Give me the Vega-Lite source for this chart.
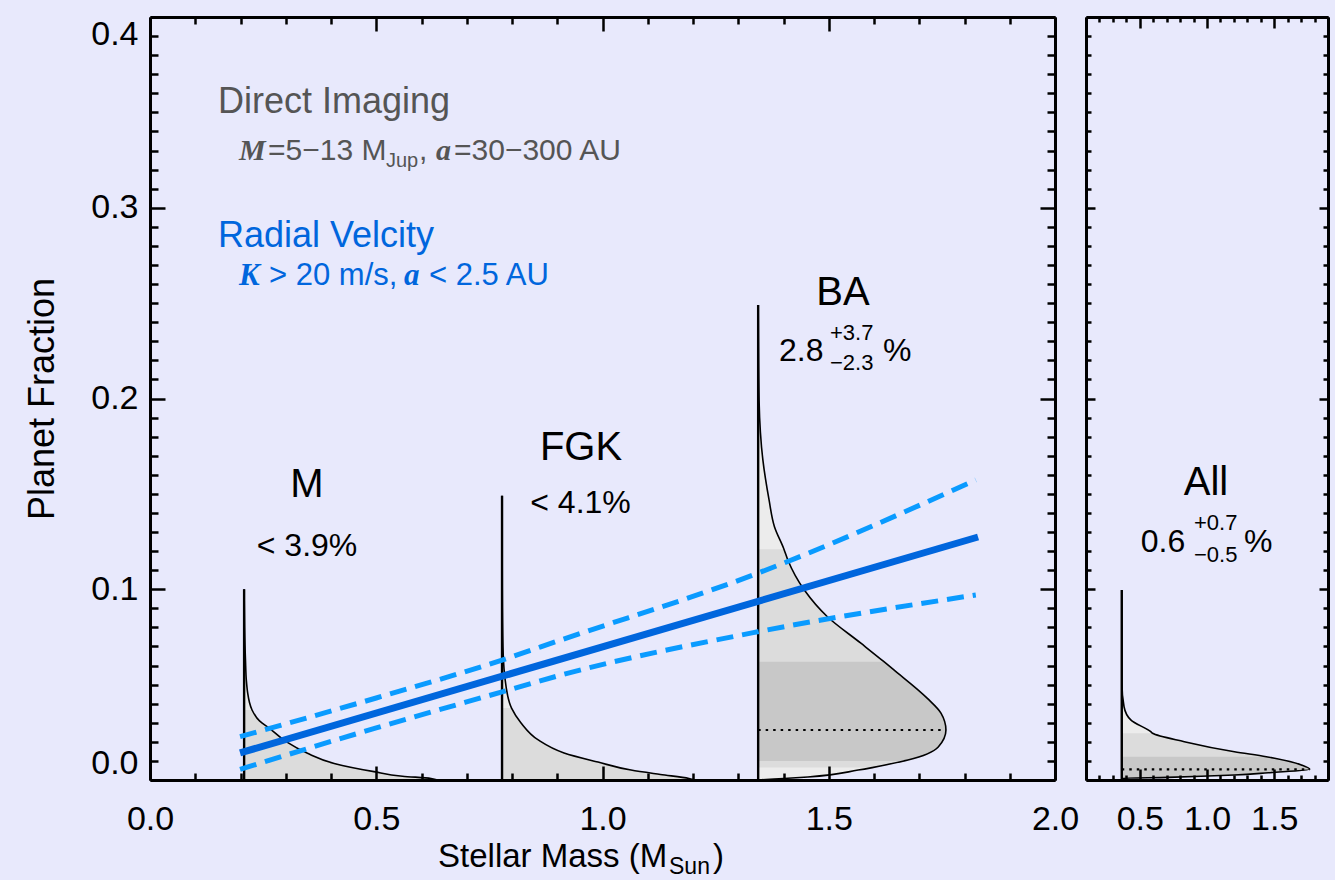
{
  "$schema": "https://vega.github.io/schema/vega-lite/v6.json",
  "background": "#e8e9fc",
  "padding": {"left": 24, "top": 15, "right": 5, "bottom": 0},
  "config": {"view": {"stroke": null}, "text": {"font": "Liberation Sans"}},
  "spacing": 31,
  "bounds": "flush",
  "datasets": {
    "curves": [
      {"d": "M", "y": 0, "x": 0.635},
      {"d": "M", "y": 0.0008, "x": 0.621},
      {"d": "M", "y": 0.002, "x": 0.558},
      {"d": "M", "y": 0.0044, "x": 0.495},
      {"d": "M", "y": 0.0087, "x": 0.407},
      {"d": "M", "y": 0.014, "x": 0.348},
      {"d": "M", "y": 0.0201, "x": 0.301},
      {"d": "M", "y": 0.0271, "x": 0.264},
      {"d": "M", "y": 0.031, "x": 0.242},
      {"d": "M", "y": 0.0367, "x": 0.2255},
      {"d": "M", "y": 0.041, "x": 0.2195},
      {"d": "M", "y": 0.0454, "x": 0.216},
      {"d": "M", "y": 0.052, "x": 0.213},
      {"d": "M", "y": 0.0629, "x": 0.211},
      {"d": "M", "y": 0.08, "x": 0.209},
      {"d": "M", "y": 0.1, "x": 0.208},
      {"d": "FGK", "y": 0, "x": 1.205},
      {"d": "FGK", "y": 0.0008, "x": 1.191},
      {"d": "FGK", "y": 0.0029, "x": 1.128},
      {"d": "FGK", "y": 0.0052, "x": 1.063},
      {"d": "FGK", "y": 0.0094, "x": 0.99},
      {"d": "FGK", "y": 0.0142, "x": 0.915},
      {"d": "FGK", "y": 0.021, "x": 0.858},
      {"d": "FGK", "y": 0.0299, "x": 0.82},
      {"d": "FGK", "y": 0.0377, "x": 0.799},
      {"d": "FGK", "y": 0.0488, "x": 0.787},
      {"d": "FGK", "y": 0.0697, "x": 0.78},
      {"d": "FGK", "y": 0.1, "x": 0.7785},
      {"d": "FGK", "y": 0.149, "x": 0.778},
      {"d": "BA", "y": 0, "x": 1.344},
      {"d": "BA", "y": 0.0005, "x": 1.379},
      {"d": "BA", "y": 0.0016, "x": 1.454},
      {"d": "BA", "y": 0.0052, "x": 1.565},
      {"d": "BA", "y": 0.0065, "x": 1.596},
      {"d": "BA", "y": 0.01, "x": 1.666},
      {"d": "BA", "y": 0.0105, "x": 1.675},
      {"d": "BA", "y": 0.0173, "x": 1.742},
      {"d": "BA", "y": 0.0262, "x": 1.759},
      {"d": "BA", "y": 0.0351, "x": 1.748},
      {"d": "BA", "y": 0.0428, "x": 1.718},
      {"d": "BA", "y": 0.0577, "x": 1.644},
      {"d": "BA", "y": 0.062, "x": 1.622},
      {"d": "BA", "y": 0.0717, "x": 1.571},
      {"d": "BA", "y": 0.0856, "x": 1.497},
      {"d": "BA", "y": 0.0996, "x": 1.446},
      {"d": "BA", "y": 0.1153, "x": 1.4096},
      {"d": "BA", "y": 0.121, "x": 1.401},
      {"d": "BA", "y": 0.1328, "x": 1.38},
      {"d": "BA", "y": 0.147, "x": 1.368},
      {"d": "BA", "y": 0.1678, "x": 1.3544},
      {"d": "BA", "y": 0.199, "x": 1.346},
      {"d": "BA", "y": 0.23, "x": 1.3445},
      {"d": "BA", "y": 0.249, "x": 1.344}
    ],
    "allcurve": [
      {"d": "All", "y": 0, "x": 0.366},
      {"d": "All", "y": 0.0009, "x": 0.37},
      {"d": "All", "y": 0.0014, "x": 0.709},
      {"d": "All", "y": 0.0026, "x": 1.202},
      {"d": "All", "y": 0.0038, "x": 1.456},
      {"d": "All", "y": 0.0056, "x": 1.764},
      {"d": "All", "y": 0.0079, "x": 1.702},
      {"d": "All", "y": 0.0114, "x": 1.503},
      {"d": "All", "y": 0.0122, "x": 1.441},
      {"d": "All", "y": 0.0148, "x": 1.204},
      {"d": "All", "y": 0.0201, "x": 0.831},
      {"d": "All", "y": 0.0245, "x": 0.595},
      {"d": "All", "y": 0.0253, "x": 0.582},
      {"d": "All", "y": 0.0315, "x": 0.433},
      {"d": "All", "y": 0.0384, "x": 0.383},
      {"d": "All", "y": 0.0509, "x": 0.367},
      {"d": "All", "y": 0.07, "x": 0.3665},
      {"d": "All", "y": 0.0996, "x": 0.366}
    ],
    "rv": [
      {"s": "fit", "x": 0.199, "y": 0.0142},
      {"s": "fit", "x": 1.83, "y": 0.1274},
      {"s": "upper", "x": 0.199, "y": 0.0227},
      {"s": "upper", "x": 0.5, "y": 0.043},
      {"s": "upper", "x": 0.778, "y": 0.0629},
      {"s": "upper", "x": 0.908, "y": 0.0734},
      {"s": "upper", "x": 1.343, "y": 0.1084},
      {"s": "upper", "x": 1.825, "y": 0.1573},
      {"s": "lower", "x": 0.199, "y": 0.0056},
      {"s": "lower", "x": 0.5, "y": 0.0273},
      {"s": "lower", "x": 0.778, "y": 0.0462},
      {"s": "lower", "x": 0.908, "y": 0.055},
      {"s": "lower", "x": 1.343, "y": 0.0777},
      {"s": "lower", "x": 1.825, "y": 0.097}
    ]
  },
  "hconcat": [
    {
      "width": 905,
      "height": 763,
      "resolve": {"axis": {"x": "independent", "y": "independent"}},
      "layer": [
        {
          "data": {"name": "curves"},
          "transform": [{"joinaggregate": [{"op": "min", "field": "x", "as": "base"}], "groupby": ["d"]}],
          "mark": {"type": "area", "orient": "horizontal", "interpolate": "monotone", "fill": "#ececec", "stroke": null},
          "encoding": {
            "y": {"field": "y", "type": "quantitative", "scale": {"domain": [0, 0.4], "nice": false, "zero": false},
              "axis": {"orient": "left", "values": [0,0.01,0.02,0.03,0.04,0.05,0.06,0.07,0.08,0.09,0.1,0.11,0.12,0.13,0.14,0.15,0.16,0.17,0.18,0.19,0.2,0.21,0.22,0.23,0.24,0.25,0.26,0.27,0.28,0.29,0.3,0.31,0.32,0.33,0.34,0.35,0.36,0.37,0.38,0.39,0.4],
                "labelExpr": "round(datum.value*100)%10==0 ? format(datum.value,'.1f') : ''", "labelOverlap": false, "labelFlush": true,
                "labelFont": "Liberation Sans", "labelFontSize": 34, "labelColor": "black", "labelPadding": 27,
                "tickSize": {"condition": {"test": "round(datum.value*100)%10==0", "value": -15}, "value": -8},
                "tickColor": "black", "tickWidth": 2.5, "domainColor": "black", "domainWidth": 3, "grid": false,
                "title": "Planet Fraction", "titleFont": "Liberation Sans", "titleFontSize": 36, "titleFontWeight": "normal", "titleColor": "black", "titlePadding": 29, "zindex": 1}},
            "x": {"field": "x", "type": "quantitative", "scale": {"domain": [0, 2], "nice": false, "zero": false},
              "axis": {"orient": "bottom", "values": [0,0.1,0.2,0.3,0.4,0.5,0.6,0.7,0.8,0.9,1,1.1,1.2,1.3,1.4,1.5,1.6,1.7,1.8,1.9,2],
                "labelExpr": "round(datum.value*10)%5==0 ? format(datum.value,'.1f') : ''", "labelOverlap": false, "labelFlush": false,
                "labelFont": "Liberation Sans", "labelFontSize": 34, "labelColor": "black", "labelPadding": 36,
                "tickSize": {"condition": {"test": "round(datum.value*10)%5==0", "value": -14}, "value": -7},
                "tickColor": "black", "tickWidth": 2.5, "domainColor": "black", "domainWidth": 3, "grid": false, "title": null, "zindex": 1}},
            "x2": {"field": "base"},
            "detail": {"field": "d", "type": "nominal"}
          }
        },
        {
          "data": {"name": "curves"},
          "transform": [
            {"joinaggregate": [{"op": "min", "field": "x", "as": "base"}], "groupby": ["d"]},
            {"filter": "(datum.d=='M' && datum.y<=0.0367) || (datum.d=='FGK' && datum.y<=0.0377) || (datum.d=='BA' && datum.y>=0.0065 && datum.y<=0.121)"}
          ],
          "mark": {"type": "area", "orient": "horizontal", "interpolate": "monotone", "fill": "#dcdcdc", "stroke": null},
          "encoding": {
            "y": {"field": "y", "type": "quantitative", "scale": {"domain": [0, 0.4], "nice": false, "zero": false}, "axis": null},
            "x": {"field": "x", "type": "quantitative", "scale": {"domain": [0, 2], "nice": false, "zero": false}, "axis": null},
            "x2": {"field": "base"},
            "detail": {"field": "d", "type": "nominal"}
          }
        },
        {
          "data": {"name": "curves"},
          "transform": [
            {"joinaggregate": [{"op": "min", "field": "x", "as": "base"}], "groupby": ["d"]},
            {"filter": "datum.d=='BA' && datum.y>=0.01 && datum.y<=0.062"}
          ],
          "mark": {"type": "area", "orient": "horizontal", "interpolate": "monotone", "fill": "#c8c8c8", "stroke": null},
          "encoding": {
            "y": {"field": "y", "type": "quantitative", "scale": {"domain": [0, 0.4], "nice": false, "zero": false}, "axis": null},
            "x": {"field": "x", "type": "quantitative", "scale": {"domain": [0, 2], "nice": false, "zero": false}, "axis": null},
            "x2": {"field": "base"},
            "detail": {"field": "d", "type": "nominal"}
          }
        },
        {
          "data": {"name": "curves"},
          "transform": [{"joinaggregate": [{"op": "min", "field": "x", "as": "base"}], "groupby": ["d"]}],
          "mark": {"type": "area", "orient": "horizontal", "interpolate": "monotone", "fill": "white", "fillOpacity": 0, "stroke": "black", "strokeWidth": 1.6},
          "encoding": {
            "y": {"field": "y", "type": "quantitative", "scale": {"domain": [0, 0.4], "nice": false, "zero": false},
              "axis": {"orient": "right", "values": [0,0.01,0.02,0.03,0.04,0.05,0.06,0.07,0.08,0.09,0.1,0.11,0.12,0.13,0.14,0.15,0.16,0.17,0.18,0.19,0.2,0.21,0.22,0.23,0.24,0.25,0.26,0.27,0.28,0.29,0.3,0.31,0.32,0.33,0.34,0.35,0.36,0.37,0.38,0.39,0.4],
                "labels": false, "tickSize": {"condition": {"test": "round(datum.value*100)%10==0", "value": -15}, "value": -8},
                "tickColor": "black", "tickWidth": 2.5, "domainColor": "black", "domainWidth": 3, "grid": false, "title": null, "zindex": 1}},
            "x": {"field": "x", "type": "quantitative", "scale": {"domain": [0, 2], "nice": false, "zero": false},
              "axis": {"orient": "top", "values": [0,0.1,0.2,0.3,0.4,0.5,0.6,0.7,0.8,0.9,1,1.1,1.2,1.3,1.4,1.5,1.6,1.7,1.8,1.9,2],
                "labels": false, "tickSize": {"condition": {"test": "round(datum.value*10)%5==0", "value": -14}, "value": -7},
                "tickColor": "black", "tickWidth": 2.5, "domainColor": "black", "domainWidth": 3, "grid": false, "title": null, "zindex": 1}},
            "x2": {"field": "base"},
            "detail": {"field": "d", "type": "nominal"}
          }
        },
        {
          "data": {"name": "curves"},
          "transform": [{"aggregate": [{"op": "min", "field": "x", "as": "base"}, {"op": "max", "field": "y", "as": "ymax"}], "groupby": ["d"]}],
          "mark": {"type": "rule", "color": "black", "strokeWidth": 2.4},
          "encoding": {
            "x": {"field": "base", "type": "quantitative", "scale": {"domain": [0, 2], "nice": false, "zero": false}, "axis": null},
            "y": {"field": "ymax", "type": "quantitative", "scale": {"domain": [0, 0.4], "nice": false, "zero": false}, "axis": null},
            "y2": {"datum": 0}
          }
        },
        {
          "data": {"name": "curves"},
          "transform": [
            {"joinaggregate": [{"op": "min", "field": "x", "as": "base"}, {"op": "max", "field": "x", "as": "xmax"}], "groupby": ["d"]},
            {"filter": "datum.d=='BA' && datum.x==datum.xmax"}
          ],
          "mark": {"type": "rule", "color": "black", "strokeWidth": 2.2, "strokeDash": [2.5, 5]},
          "encoding": {
            "x": {"field": "base", "type": "quantitative", "scale": {"domain": [0, 2], "nice": false, "zero": false}, "axis": null},
            "x2": {"field": "x"},
            "y": {"field": "y", "type": "quantitative", "scale": {"domain": [0, 0.4], "nice": false, "zero": false}, "axis": null}
          }
        },
        {
          "data": {"name": "rv"},
          "transform": [{"filter": "datum.s!='fit'"}],
          "mark": {"type": "line", "color": "#0a9bff", "strokeWidth": 5, "strokeDash": [17, 9], "interpolate": "monotone"},
          "encoding": {
            "x": {"field": "x", "type": "quantitative", "scale": {"domain": [0, 2], "nice": false, "zero": false}, "axis": null},
            "y": {"field": "y", "type": "quantitative", "scale": {"domain": [0, 0.4], "nice": false, "zero": false}, "axis": null},
            "detail": {"field": "s", "type": "nominal"}
          }
        },
        {
          "data": {"name": "rv"},
          "transform": [{"filter": "datum.s=='fit'"}],
          "mark": {"type": "line", "color": "#0066dd", "strokeWidth": 7},
          "encoding": {
            "x": {"field": "x", "type": "quantitative", "scale": {"domain": [0, 2], "nice": false, "zero": false}, "axis": null},
            "y": {"field": "y", "type": "quantitative", "scale": {"domain": [0, 0.4], "nice": false, "zero": false}, "axis": null}
          }
        },
        {
          "data": {"values": [{"t": "Direct Imaging", "x": 0.1503, "y": 0.3497}]},
          "mark": {"type": "text", "align": "left", "baseline": "alphabetic", "font": "Liberation Sans", "fontSize": 36, "color": "#555555"},
          "encoding": {
            "x": {"field": "x", "type": "quantitative", "scale": {"domain": [0, 2], "nice": false, "zero": false}, "axis": null},
            "y": {"field": "y", "type": "quantitative", "scale": {"domain": [0, 0.4], "nice": false, "zero": false}, "axis": null},
            "text": {"field": "t"}
          }
        },
        {
          "data": {"values": [{"t": "=5−13 M", "x": 0.2608, "y": 0.325}, {"t": ",", "x": 0.5945, "y": 0.325}, {"t": "=30−300 AU", "x": 0.6718, "y": 0.325}]},
          "mark": {"type": "text", "align": "left", "baseline": "alphabetic", "font": "Liberation Sans", "fontSize": 30, "color": "#555555"},
          "encoding": {
            "x": {"field": "x", "type": "quantitative", "scale": {"domain": [0, 2], "nice": false, "zero": false}, "axis": null},
            "y": {"field": "y", "type": "quantitative", "scale": {"domain": [0, 0.4], "nice": false, "zero": false}, "axis": null},
            "text": {"field": "t"}
          }
        },
        {
          "data": {"values": [{"t": "M", "x": 0.1967, "y": 0.325}, {"t": "a", "x": 0.632, "y": 0.325}]},
          "mark": {"type": "text", "align": "left", "baseline": "alphabetic", "font": "Liberation Serif", "fontStyle": "italic", "fontWeight": "bold", "fontSize": 30, "color": "#555555"},
          "encoding": {
            "x": {"field": "x", "type": "quantitative", "scale": {"domain": [0, 2], "nice": false, "zero": false}, "axis": null},
            "y": {"field": "y", "type": "quantitative", "scale": {"domain": [0, 0.4], "nice": false, "zero": false}, "axis": null},
            "text": {"field": "t"}
          }
        },
        {
          "data": {"values": [{"t": "Jup", "x": 0.5215, "y": 0.3214}]},
          "mark": {"type": "text", "align": "left", "baseline": "alphabetic", "font": "Liberation Sans", "fontSize": 20, "color": "#555555"},
          "encoding": {
            "x": {"field": "x", "type": "quantitative", "scale": {"domain": [0, 2], "nice": false, "zero": false}, "axis": null},
            "y": {"field": "y", "type": "quantitative", "scale": {"domain": [0, 0.4], "nice": false, "zero": false}, "axis": null},
            "text": {"field": "t"}
          }
        },
        {
          "data": {"values": [{"t": "Radial Velcity", "x": 0.1503, "y": 0.2794}]},
          "mark": {"type": "text", "align": "left", "baseline": "alphabetic", "font": "Liberation Sans", "fontSize": 36, "color": "#0066dd"},
          "encoding": {
            "x": {"field": "x", "type": "quantitative", "scale": {"domain": [0, 2], "nice": false, "zero": false}, "axis": null},
            "y": {"field": "y", "type": "quantitative", "scale": {"domain": [0, 0.4], "nice": false, "zero": false}, "axis": null},
            "text": {"field": "t"}
          }
        },
        {
          "data": {"values": [{"t": "> 20 m/s,", "x": 0.263, "y": 0.2595}, {"t": "< 2.5 AU", "x": 0.6166, "y": 0.2595}]},
          "mark": {"type": "text", "align": "left", "baseline": "alphabetic", "font": "Liberation Sans", "fontSize": 31, "color": "#0066dd"},
          "encoding": {
            "x": {"field": "x", "type": "quantitative", "scale": {"domain": [0, 2], "nice": false, "zero": false}, "axis": null},
            "y": {"field": "y", "type": "quantitative", "scale": {"domain": [0, 0.4], "nice": false, "zero": false}, "axis": null},
            "text": {"field": "t"}
          }
        },
        {
          "data": {"values": [{"t": "K", "x": 0.1967, "y": 0.2595}, {"t": "a", "x": 0.5613, "y": 0.2595}]},
          "mark": {"type": "text", "align": "left", "baseline": "alphabetic", "font": "Liberation Serif", "fontStyle": "italic", "fontWeight": "bold", "fontSize": 31, "color": "#0066dd"},
          "encoding": {
            "x": {"field": "x", "type": "quantitative", "scale": {"domain": [0, 2], "nice": false, "zero": false}, "axis": null},
            "y": {"field": "y", "type": "quantitative", "scale": {"domain": [0, 0.4], "nice": false, "zero": false}, "axis": null},
            "text": {"field": "t"}
          }
        },
        {
          "data": {"values": [{"t": "M", "x": 0.347, "y": 0.1484}, {"t": "FGK", "x": 0.9525, "y": 0.1678}, {"t": "BA", "x": 1.5315, "y": 0.249}]},
          "mark": {"type": "text", "align": "center", "baseline": "alphabetic", "font": "Liberation Sans", "fontSize": 40, "color": "black"},
          "encoding": {
            "x": {"field": "x", "type": "quantitative", "scale": {"domain": [0, 2], "nice": false, "zero": false}, "axis": null},
            "y": {"field": "y", "type": "quantitative", "scale": {"domain": [0, 0.4], "nice": false, "zero": false}, "axis": null},
            "text": {"field": "t"}
          }
        },
        {
          "data": {"values": [{"t": "< 3.9%", "x": 0.347, "y": 0.1174}, {"t": "< 4.1%", "x": 0.9514, "y": 0.14}]},
          "mark": {"type": "text", "align": "center", "baseline": "alphabetic", "font": "Liberation Sans", "fontSize": 32, "color": "black"},
          "encoding": {
            "x": {"field": "x", "type": "quantitative", "scale": {"domain": [0, 2], "nice": false, "zero": false}, "axis": null},
            "y": {"field": "y", "type": "quantitative", "scale": {"domain": [0, 0.4], "nice": false, "zero": false}, "axis": null},
            "text": {"field": "t"}
          }
        },
        {
          "data": {"values": [{"t": "2.8", "x": 1.39, "y": 0.2197}, {"t": "%", "x": 1.62, "y": 0.2197}]},
          "mark": {"type": "text", "align": "left", "baseline": "alphabetic", "font": "Liberation Sans", "fontSize": 32, "color": "black"},
          "encoding": {
            "x": {"field": "x", "type": "quantitative", "scale": {"domain": [0, 2], "nice": false, "zero": false}, "axis": null},
            "y": {"field": "y", "type": "quantitative", "scale": {"domain": [0, 0.4], "nice": false, "zero": false}, "axis": null},
            "text": {"field": "t"}
          }
        },
        {
          "data": {"values": [{"t": "+3.7", "x": 1.5028, "y": 0.2307}, {"t": "−2.3", "x": 1.5028, "y": 0.2149}]},
          "mark": {"type": "text", "align": "left", "baseline": "alphabetic", "font": "Liberation Sans", "fontSize": 22, "color": "black"},
          "encoding": {
            "x": {"field": "x", "type": "quantitative", "scale": {"domain": [0, 2], "nice": false, "zero": false}, "axis": null},
            "y": {"field": "y", "type": "quantitative", "scale": {"domain": [0, 0.4], "nice": false, "zero": false}, "axis": null},
            "text": {"field": "t"}
          }
        },
        {
          "data": {"values": [{"t": "Stellar Mass (M", "x": 0.6365, "y": -0.0456}, {"t": ")", "x": 1.244, "y": -0.0456}]},
          "mark": {"type": "text", "align": "left", "baseline": "alphabetic", "font": "Liberation Sans", "fontSize": 33, "color": "black"},
          "encoding": {
            "x": {"field": "x", "type": "quantitative", "scale": {"domain": [0, 2], "nice": false, "zero": false}, "axis": null},
            "y": {"field": "y", "type": "quantitative", "scale": {"domain": [0, 0.4], "nice": false, "zero": false}, "axis": null},
            "text": {"field": "t"}
          }
        },
        {
          "data": {"values": [{"t": "Sun", "x": 1.147, "y": -0.0493}]},
          "mark": {"type": "text", "align": "left", "baseline": "alphabetic", "font": "Liberation Sans", "fontSize": 23, "color": "black"},
          "encoding": {
            "x": {"field": "x", "type": "quantitative", "scale": {"domain": [0, 2], "nice": false, "zero": false}, "axis": null},
            "y": {"field": "y", "type": "quantitative", "scale": {"domain": [0, 0.4], "nice": false, "zero": false}, "axis": null},
            "text": {"field": "t"}
          }
        }
      ]
    },
    {
      "width": 242,
      "height": 763,
      "resolve": {"axis": {"x": "independent", "y": "independent"}},
      "layer": [
        {
          "data": {"name": "allcurve"},
          "transform": [{"joinaggregate": [{"op": "min", "field": "x", "as": "base"}], "groupby": ["d"]}],
          "mark": {"type": "area", "orient": "horizontal", "interpolate": "monotone", "fill": "#ececec", "stroke": null},
          "encoding": {
            "y": {"field": "y", "type": "quantitative", "scale": {"domain": [0, 0.4], "nice": false, "zero": false},
              "axis": {"orient": "left", "values": [0,0.01,0.02,0.03,0.04,0.05,0.06,0.07,0.08,0.09,0.1,0.11,0.12,0.13,0.14,0.15,0.16,0.17,0.18,0.19,0.2,0.21,0.22,0.23,0.24,0.25,0.26,0.27,0.28,0.29,0.3,0.31,0.32,0.33,0.34,0.35,0.36,0.37,0.38,0.39,0.4],
                "labels": false, "tickSize": {"condition": {"test": "round(datum.value*100)%10==0", "value": -9}, "value": -5},
                "tickColor": "black", "tickWidth": 2.5, "domainColor": "black", "domainWidth": 3, "grid": false, "title": null, "zindex": 1}},
            "x": {"field": "x", "type": "quantitative", "scale": {"domain": [0.1, 1.9], "nice": false, "zero": false},
              "axis": {"orient": "bottom", "values": [0.1,0.2,0.3,0.4,0.5,0.6,0.7,0.8,0.9,1,1.1,1.2,1.3,1.4,1.5,1.6,1.7,1.8,1.9],
                "labelExpr": "round(datum.value*10)%5==0 ? format(datum.value,'.1f') : ''", "labelOverlap": false, "labelFlush": false,
                "labelFont": "Liberation Sans", "labelFontSize": 34, "labelColor": "black", "labelPadding": 33,
                "tickSize": {"condition": {"test": "round(datum.value*10)%5==0", "value": -11}, "value": -5},
                "tickColor": "black", "tickWidth": 2.5, "domainColor": "black", "domainWidth": 3, "grid": false, "title": null, "zindex": 1}},
            "x2": {"field": "base"},
            "detail": {"field": "d", "type": "nominal"}
          }
        },
        {
          "data": {"name": "allcurve"},
          "transform": [
            {"joinaggregate": [{"op": "min", "field": "x", "as": "base"}], "groupby": ["d"]},
            {"filter": "datum.y>=0.0009 && datum.y<=0.0245"}
          ],
          "mark": {"type": "area", "orient": "horizontal", "interpolate": "monotone", "fill": "#dcdcdc", "stroke": null},
          "encoding": {
            "y": {"field": "y", "type": "quantitative", "scale": {"domain": [0, 0.4], "nice": false, "zero": false}, "axis": null},
            "x": {"field": "x", "type": "quantitative", "scale": {"domain": [0.1, 1.9], "nice": false, "zero": false}, "axis": null},
            "x2": {"field": "base"},
            "detail": {"field": "d", "type": "nominal"}
          }
        },
        {
          "data": {"name": "allcurve"},
          "transform": [
            {"joinaggregate": [{"op": "min", "field": "x", "as": "base"}], "groupby": ["d"]},
            {"filter": "datum.y>=0.0009 && datum.y<=0.0122"}
          ],
          "mark": {"type": "area", "orient": "horizontal", "interpolate": "monotone", "fill": "#c8c8c8", "stroke": null},
          "encoding": {
            "y": {"field": "y", "type": "quantitative", "scale": {"domain": [0, 0.4], "nice": false, "zero": false}, "axis": null},
            "x": {"field": "x", "type": "quantitative", "scale": {"domain": [0.1, 1.9], "nice": false, "zero": false}, "axis": null},
            "x2": {"field": "base"},
            "detail": {"field": "d", "type": "nominal"}
          }
        },
        {
          "data": {"name": "allcurve"},
          "transform": [{"joinaggregate": [{"op": "min", "field": "x", "as": "base"}], "groupby": ["d"]}],
          "mark": {"type": "area", "orient": "horizontal", "interpolate": "monotone", "fill": "white", "fillOpacity": 0, "stroke": "black", "strokeWidth": 1.6},
          "encoding": {
            "y": {"field": "y", "type": "quantitative", "scale": {"domain": [0, 0.4], "nice": false, "zero": false},
              "axis": {"orient": "right", "values": [0,0.01,0.02,0.03,0.04,0.05,0.06,0.07,0.08,0.09,0.1,0.11,0.12,0.13,0.14,0.15,0.16,0.17,0.18,0.19,0.2,0.21,0.22,0.23,0.24,0.25,0.26,0.27,0.28,0.29,0.3,0.31,0.32,0.33,0.34,0.35,0.36,0.37,0.38,0.39,0.4],
                "labels": false, "tickSize": {"condition": {"test": "round(datum.value*100)%10==0", "value": -9}, "value": -5},
                "tickColor": "black", "tickWidth": 2.5, "domainColor": "black", "domainWidth": 3, "grid": false, "title": null, "zindex": 1}},
            "x": {"field": "x", "type": "quantitative", "scale": {"domain": [0.1, 1.9], "nice": false, "zero": false},
              "axis": {"orient": "top", "values": [0.1,0.2,0.3,0.4,0.5,0.6,0.7,0.8,0.9,1,1.1,1.2,1.3,1.4,1.5,1.6,1.7,1.8,1.9],
                "labels": false, "tickSize": {"condition": {"test": "round(datum.value*10)%5==0", "value": -11}, "value": -5},
                "tickColor": "black", "tickWidth": 2.5, "domainColor": "black", "domainWidth": 3, "grid": false, "title": null, "zindex": 1}},
            "x2": {"field": "base"},
            "detail": {"field": "d", "type": "nominal"}
          }
        },
        {
          "data": {"name": "allcurve"},
          "transform": [{"aggregate": [{"op": "min", "field": "x", "as": "base"}, {"op": "max", "field": "y", "as": "ymax"}], "groupby": ["d"]}],
          "mark": {"type": "rule", "color": "black", "strokeWidth": 2.4},
          "encoding": {
            "x": {"field": "base", "type": "quantitative", "scale": {"domain": [0.1, 1.9], "nice": false, "zero": false}, "axis": null},
            "y": {"field": "ymax", "type": "quantitative", "scale": {"domain": [0, 0.4], "nice": false, "zero": false}, "axis": null},
            "y2": {"datum": 0}
          }
        },
        {
          "data": {"name": "allcurve"},
          "transform": [
            {"joinaggregate": [{"op": "min", "field": "x", "as": "base"}, {"op": "max", "field": "x", "as": "xmax"}], "groupby": ["d"]},
            {"filter": "datum.x==datum.xmax"}
          ],
          "mark": {"type": "rule", "color": "black", "strokeWidth": 2.2, "strokeDash": [2.5, 5]},
          "encoding": {
            "x": {"field": "base", "type": "quantitative", "scale": {"domain": [0.1, 1.9], "nice": false, "zero": false}, "axis": null},
            "x2": {"field": "x"},
            "y": {"field": "y", "type": "quantitative", "scale": {"domain": [0, 0.4], "nice": false, "zero": false}, "axis": null}
          }
        },
        {
          "data": {"values": [{"t": "All", "x": 0.9925, "y": 0.1494}]},
          "mark": {"type": "text", "align": "center", "baseline": "alphabetic", "font": "Liberation Sans", "fontSize": 40, "color": "black"},
          "encoding": {
            "x": {"field": "x", "type": "quantitative", "scale": {"domain": [0.1, 1.9], "nice": false, "zero": false}, "axis": null},
            "y": {"field": "y", "type": "quantitative", "scale": {"domain": [0, 0.4], "nice": false, "zero": false}, "axis": null},
            "text": {"field": "t"}
          }
        },
        {
          "data": {"values": [{"t": "0.6", "x": 0.5075, "y": 0.1195}, {"t": "%", "x": 1.276, "y": 0.1195}]},
          "mark": {"type": "text", "align": "left", "baseline": "alphabetic", "font": "Liberation Sans", "fontSize": 32, "color": "black"},
          "encoding": {
            "x": {"field": "x", "type": "quantitative", "scale": {"domain": [0.1, 1.9], "nice": false, "zero": false}, "axis": null},
            "y": {"field": "y", "type": "quantitative", "scale": {"domain": [0, 0.4], "nice": false, "zero": false}, "axis": null},
            "text": {"field": "t"}
          }
        },
        {
          "data": {"values": [{"t": "+0.7", "x": 0.903, "y": 0.1311}, {"t": "−0.5", "x": 0.903, "y": 0.1143}]},
          "mark": {"type": "text", "align": "left", "baseline": "alphabetic", "font": "Liberation Sans", "fontSize": 22, "color": "black"},
          "encoding": {
            "x": {"field": "x", "type": "quantitative", "scale": {"domain": [0.1, 1.9], "nice": false, "zero": false}, "axis": null},
            "y": {"field": "y", "type": "quantitative", "scale": {"domain": [0, 0.4], "nice": false, "zero": false}, "axis": null},
            "text": {"field": "t"}
          }
        }
      ]
    }
  ]
}
